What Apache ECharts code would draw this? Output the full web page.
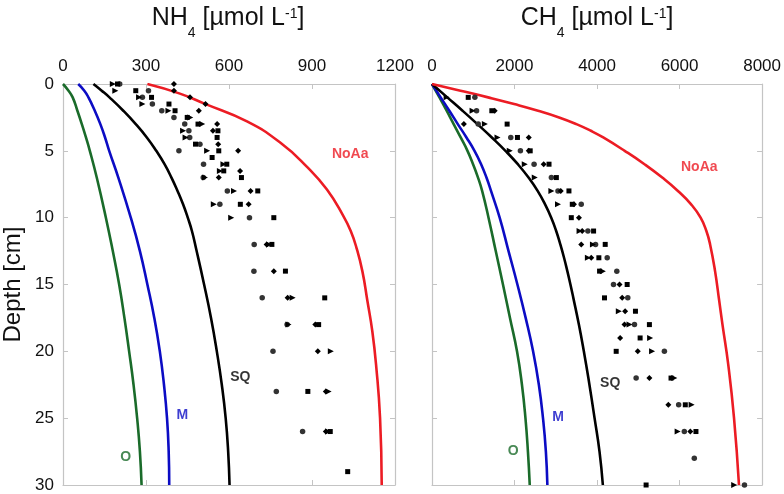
<!DOCTYPE html>
<html><head><meta charset="utf-8">
<script src="https://cdn.jsdelivr.net/npm/echarts@6/dist/echarts.min.js"></script>
<style>html,body{margin:0;padding:0;background:#fff}#c{width:784px;height:494px}</style>
</head><body><div id="c"></div>
<script>
// ---- data: [value, depth] ----
const nh4Ticks = [0, 300, 600, 900, 1200];
const ch4Ticks = [0, 2000, 4000, 6000, 8000];
const depthTicks = [0, 5, 10, 15, 20, 25, 30];

const nh4O = [[0,0],[20,0.5],[35,1],[52,2],[68,3],[83,4],[97,5],[122,7],[155,10],[180,12.5],[203,15],[222,17.5],[239,20],[255,22.5],[268,25],[278,27.5],[284,30]];
const nh4M = [[55,0],[77,0.5],[92,1],[115,2],[135,3],[152,4],[167,5],[200,7],[245,10],[278,12.5],[305,15],[330,17.5],[350,20],[365,22.5],[376,25],[382,27.5],[384,30]];
const nh4SQ = [[110,0],[140,0.5],[168,1],[218,2],[263,3],[303,4],[337,5],[367,6],[392,7],[414,8],[434,9],[451,10],[466,11],[482,12.4],[510,15],[535,17.5],[556,20],[574,22.5],[588,25],[597,27.5],[602,30]];
const nh4NoAa = [[305,0],[420,0.7],[509,1.45],[665,2.8],[786,4.4],[882,6.2],[954,7.9],[1014,9.9],[1040,11],[1060,12.2],[1082,14],[1100,16.2],[1118,18.5],[1132,21.1],[1146,25],[1152,30]];

const ch4O = [[0,0],[180,1],[355,2],[525,3],[695,4],[860,5],[995,6],[1115,7],[1215,8],[1370,10],[1545,12.5],[1720,15],[1890,17.5],[2060,20],[2180,22.5],[2265,25],[2325,27.5],[2369,30]];
const ch4M = [[0,0],[210,1],[420,2],[625,3],[835,4],[1030,5],[1190,6],[1320,7],[1430,8],[1640,10],[1855,12.5],[2070,15],[2270,17.5],[2450,20],[2590,22.5],[2690,25],[2760,27.5],[2796,30]];
const ch4SQ = [[0,0],[370,1],[740,2],[1100,3],[1450,4],[1780,5],[2080,6],[2340,7],[2560,8],[2740,9],[2890,10],[3010,11],[3110,12],[3200,13],[3280,14],[3355,15],[3425,16],[3560,18],[3680,20],[3790,22],[3940,25],[4060,27.5],[4141,30]];
const ch4NoAa = [[0,0],[690,0.5],[1360,1],[1990,1.5],[2570,2],[3080,2.5],[3500,3],[3850,3.5],[4150,4],[4670,5],[5150,6],[5580,7],[5960,8],[6280,9],[6510,10],[6650,11],[6740,12],[6860,14],[6960,16.2],[7040,18],[7180,21],[7320,25],[7440,30]];

const nh4Circle = [[205,0],[309,0.5],[287,1],[323,1.5],[357,2],[401,2.5],[440,3],[455,3.5],[458,4],[495,4.5],[419,5],[508,6],[507,7],[594,8],[567,9],[674,10],[691,12],[690,14],[720,16],[810,18],[759,20],[771,23],[866,26]];
const nh4Square = [[197,0],[263,0.5],[320,1],[383,1.5],[405,2],[449,2.5],[488,3],[560,3.5],[557,4],[479,4.5],[563,5],[539,5.5],[592,6],[581,6.5],[645,7],[704,8],[641,9],[762,10],[755,12],[804,14],[946,16],[924,18],[885,23],[966,26],[1029,29]];
const nh4Triangle = [[180,0],[189,0.5],[275,1],[287,1.5],[381,2],[460,2.5],[503,3],[434,3.5],[443,4],[521,5],[580,6],[567,6.5],[513,7],[618,8],[545,9],[608,10],[745,12],[830,16],[815,18],[968,20],[960,23],[958,26]];
const nh4Diamond = [[401,0],[401,0.5],[459,1],[515,1.5],[491,2],[557,3],[542,3.5],[561,4.5],[633,5],[640,6.5],[563,7],[678,8],[671,9],[736,12],[762,14],[812,16],[912,18],[921,20],[950,23],[950,26]];

const ch4Circle = [[1039,1],[1080,2],[1120,3],[1909,4],[2143,5],[2474,6],[2893,7],[3053,8],[3617,9],[3778,11],[3964,12],[4246,13],[4479,14],[4399,15],[4745,16],[4907,18],[5632,20],[4947,22],[5978,24],[6115,26],[6357,28],[7573,30]];
const ch4Square = [[878,1],[1450,2],[1821,3],[2071,4],[2380,5],[2836,6],[3014,7],[3319,8],[3400,9],[3376,10],[3916,11],[4198,12],[4044,13],[4061,14],[4730,15],[4181,16],[4931,17],[5269,18],[5044,19],[4464,20],[5793,22],[6139,24],[6397,26],[5189,30]];
const ch4Triangle = [[355,1],[983,2],[1281,3],[1587,4],[1885,5],[2248,6],[2490,7],[2893,8],[3053,9],[3577,11],[3900,12],[3778,13],[4141,14],[4527,17],[4786,18],[5286,19],[5334,20],[5873,22],[6292,24],[5953,26],[7324,30]];
const ch4Diamond = [[1520,2],[773,3],[2345,4],[2345,5],[2707,6],[3120,8],[3440,9],[3561,10],[3640,11],[3617,12],[3860,13],[4544,15],[4609,16],[4681,17],[4665,18],[4560,19],[4987,20],[5269,22],[5728,24],[6260,26]];

// curve labels [value, depth, text]
const nh4Labels = [[1038,5.24,'NoAa'],[641,21.9,'SQ'],[431,24.8,'M'],[227,27.9,'O']];
const ch4Labels = [[6478,6.23,'NoAa'],[4319,22.4,'SQ'],[3053,24.96,'M'],[1965,27.5,'O']];

const colors = {NoAa:'#ec1c24', SQ:'#000000', M:'#0c0cc4', O:'#1a6b2a'};
const FONT = '"Liberation Sans", Arial, Helvetica, sans-serif';
const GRAY = '#c4c4c4';

const chart = echarts.init(document.getElementById('c'));

function xAx(grid, ticks, top) {
  return {
    type:'value', gridIndex:grid, position: top ? 'top' : 'bottom',
    min:ticks[0], max:ticks[ticks.length-1], interval:ticks[1]-ticks[0],
    axisLine:{show:true, onZero:false, lineStyle:{color:GRAY, width:1.2}},
    axisTick:{show:true, inside:true, length:5, lineStyle:{color:GRAY}},
    axisLabel:{show:top, fontSize:17, color:'#111', fontFamily:FONT, margin:9, formatter:v => String(v)},
    splitLine:{show:false}
  };
}
function yAx(grid, left, labels) {
  const a = {
    type:'value', gridIndex:grid, position: left ? 'left' : 'right', inverse:true,
    min:depthTicks[0], max:depthTicks[depthTicks.length-1], interval:depthTicks[1]-depthTicks[0],
    axisLine:{show:true, onZero:false, lineStyle:{color:GRAY, width:1.2}},
    axisTick:{show:true, inside:true, length:5, lineStyle:{color:GRAY}},
    axisLabel:{show:labels, fontSize:17, color:'#111', fontFamily:FONT, margin:9, formatter:v => String(v)},
    splitLine:{show:false}
  };
  if (labels) {
    a.name = 'Depth [cm]'; a.nameLocation = 'middle'; a.nameGap = 38; a.nameRotate = 90;
    a.nameTextStyle = {fontSize:24, color:'#111', fontFamily:FONT};
  }
  return a;
}
function line(data, name, xi, yi) {
  return {type:'line', data:data, xAxisIndex:xi, yAxisIndex:yi, showSymbol:false, smooth:0.5,
    lineStyle:{color:colors[name], width:2.6}, itemStyle:{color:colors[name]}, z:2, silent:true};
}
function pts(data, symbol, xi, yi, rot, size, col) {
  return {type:'scatter', data:data, xAxisIndex:xi, yAxisIndex:yi, symbol:symbol, symbolSize:size,
    symbolRotate:rot, itemStyle:{color:col, opacity:1}, z:3, silent:true};
}
function labels(arr, xi, yi) {
  return {type:'scatter', xAxisIndex:xi, yAxisIndex:yi, symbolSize:0, z:4, silent:true,
    data: arr.map(l => ({value:[l[0], l[1]], name:l[2],
      label:{show:true, position:'inside', formatter:l[2], color:colors[l[2]], fontSize:14, fontWeight:'bold', fontFamily:FONT}}))};
}

// title built from pieces: [text, size, dy]
const ctx = document.createElement('canvas').getContext('2d');
function titleParts(main, cx, cy) {
  const parts = [[main, 25, 0], ['4', 14, 15], [' [µmol L', 25, 0], ['-1', 14, -4], [']', 25, 0]];
  let widths = parts.map(p => { ctx.font = p[1] + 'px "Liberation Sans"'; return ctx.measureText(p[0]).width; });
  let total = widths.reduce((a, b) => a + b, 0);
  let x = cx - total / 2;
  return parts.map((p, i) => {
    const el = {type:'text', x:x, y:cy + p[2], style:{text:p[0], fontSize:p[1], fontFamily:FONT, fill:'#111', align:'left', verticalAlign:'middle'}};
    x += widths[i];
    return el;
  });
}

chart.setOption({
  animation:false,
  backgroundColor:'#ffffff',
  grid:[{left:62, top:84, width:333, height:401}, {left:432, top:84, width:331, height:401}],
  xAxis:[xAx(0, nh4Ticks, true), xAx(0, nh4Ticks, false), xAx(1, ch4Ticks, true), xAx(1, ch4Ticks, false)],
  yAxis:[yAx(0, true, true), yAx(0, false, false), yAx(1, true, false), yAx(1, false, false)],
  graphic: titleParts('NH', 228, 18).concat(titleParts('CH', 597, 18)),
  series:[
    line(nh4O,'O',0,0), line(nh4M,'M',0,0), line(nh4SQ,'SQ',0,0), line(nh4NoAa,'NoAa',0,0),
    line(ch4O,'O',2,2), line(ch4M,'M',2,2), line(ch4SQ,'SQ',2,2), line(ch4NoAa,'NoAa',2,2),
    pts(nh4Circle,'circle',0,0,0,5.5,'#333'), pts(nh4Square,'rect',0,0,0,5,'#000'),
    pts(nh4Triangle,'triangle',0,0,-90,6,'#000'), pts(nh4Diamond,'diamond',0,0,0,6,'#000'),
    pts(ch4Circle,'circle',2,2,0,5.5,'#333'), pts(ch4Square,'rect',2,2,0,5,'#000'),
    pts(ch4Triangle,'triangle',2,2,-90,6,'#000'), pts(ch4Diamond,'diamond',2,2,0,6,'#000'),
    labels(nh4Labels,0,0), labels(ch4Labels,2,2)
  ]
});
</script></body></html>
